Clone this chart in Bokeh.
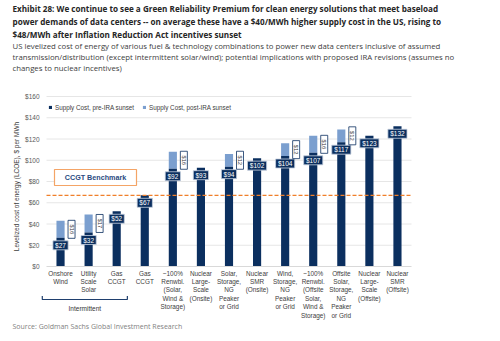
import math
from bokeh.plotting import figure
from bokeh.models import (ColumnDataSource, Range1d, FixedTicker, NumeralTickFormatter,
                          Legend, LegendItem)
from bokeh.embed import file_html
from bokeh.resources import INLINE
from bokeh.core.properties import value

# ---------------- data ----------------
categories = ["Onshore\nWind", "Utility\nScale\nSolar", "Gas\nCCGT", "Gas\nCCGT",
              "~100%\nRenwbl.\n(Solar,\nWind &\nStorage)", "Nuclear\nLarge-\nScale\n(Onsite)",
              "Solar,\nStorage,\nNG\nPeaker\nor Grid", "Nuclear\nSMR\n(Onsite)",
              "Wind,\nStorage,\nNG\nPeaker\nor Grid", "~100%\nRenwbl.\n(Offsite\nSolar,\nWind &\nStorage)",
              "Offsite\nSolar,\nStorage,\nNG\nPeaker\nor Grid", "Nuclear\nLarge-\nScale\n(Offsite)",
              "Nuclear\nSMR\n(Offsite)"]
pre_ira = [27, 32, 52, 67, 92, 93, 94, 102, 104, 107, 117, 123, 132]
post_ira_add = [16, 17, 0, 0, 16, 0, 12, 0, 12, 16, 12, 0, 0]
ccgt_benchmark = 67
y_ticks = [0, 20, 40, 60, 80, 100, 120, 140, 160]
intermittent_group = [0, 1, 2]

title_lines = [
    "Exhibit 28: We continue to see a Green Reliability Premium for clean energy solutions that meet baseload",
    "power demands of data centers -- on average these have a $40/MWh higher supply cost in the US, rising to",
    "$48/MWh after Inflation Reduction Act incentives sunset",
]
subtitle_lines = [
    "US levelized cost of energy of various fuel & technology combinations to power new data centers inclusive of assumed",
    "transmission/distribution (except intermittent solar/wind); potential implications with proposed IRA revisions (assumes no",
    "changes to nuclear incentives)",
]
source_text = "Source: Goldman Sachs Global Investment Research"
y_title = "Levelized cost of energy (LCOE), $ per MWh"

# ---------------- layout constants (pixels) ----------------
W, H = 500, 341
FL, FR, FT, FB = 46, 411, 96, 266      # plotting area of the chart
YMAX = 160
NX = len(categories)
px_per_x = (FR - FL) / NX
px_per_y = (FB - FT) / YMAX

def xd(px):
    return (px - FL) / px_per_x - 0.5

def yd(py):
    return (FB - py) / px_per_y

NAVY = "#0b2f5f"
LIGHT = "#7b9fcf"
ORANGE = "#f07f2a"
FONT = "Liberation Sans"
TFONT = "Open Sans"

xs = list(range(NX))
tops = [a + b for a, b in zip(pre_ira, post_ira_add)]
src = ColumnDataSource(dict(x=xs, pre=pre_ira, top=tops,
                            lab=["$%d" % v for v in pre_ira],
                            lab_y=[v - 7.5 / px_per_y for v in pre_ira],
                            lab_w=[3.9 * len("$%d" % v) + 3.5 for v in pre_ira]))
post_idx = [i for i, v in enumerate(post_ira_add) if v > 0]
psrc = ColumnDataSource(dict(x=[i + 11 / px_per_x for i in post_idx],
                             y=[pre_ira[i] + post_ira_add[i] / 2 for i in post_idx],
                             lab=["$%d" % post_ira_add[i] for i in post_idx]))

p = figure(width=W, height=H, output_backend="svg", toolbar_location=None,
           x_range=Range1d(xd(0), xd(W)), y_range=Range1d(yd(H), yd(0)),
           min_border=0)
p.outline_line_color = None
p.background_fill_color = "white"
p.border_fill_color = "white"
p.xgrid.visible = False
p.ygrid.visible = False

yax = p.yaxis[0]
yax.fixed_location = -0.5
yax.bounds = (0, YMAX)
yax.ticker = FixedTicker(ticks=y_ticks)
yax.formatter = NumeralTickFormatter(format="$0")
yax.axis_line_color = None
yax.major_tick_line_color = None
yax.minor_tick_line_color = None
yax.major_tick_in = 0
yax.major_tick_out = 0
yax.minor_tick_in = 0
yax.minor_tick_out = 0
yax.major_label_text_font = FONT
yax.major_label_text_font_size = "6.5px"
yax.major_label_text_color = "#595959"
yax.major_label_standoff = 7

xax = p.xaxis[0]
xax.fixed_location = 0
xax.bounds = (-0.5, NX - 0.5)
xax.ticker = FixedTicker(ticks=xs)
xax.major_label_overrides = {i: c for i, c in enumerate(categories)}
xax.axis_line_color = "#d9d9d9"
xax.major_tick_line_color = None
xax.minor_tick_line_color = None
xax.major_tick_in = 0
xax.major_tick_out = 0
xax.major_label_text_font = FONT
xax.major_label_text_font_size = "6.4px"
xax.major_label_text_color = "#404040"
xax.major_label_standoff = 3

p.segment(x0=[-0.5] * len(y_ticks[1:]), x1=[NX - 0.5] * len(y_ticks[1:]),
          y0=y_ticks[1:], y1=y_ticks[1:], line_color="#e6e6e6", line_width=1)

r_post = p.vbar(x="x", bottom="pre", top="top", width=0.29, source=src,
                fill_color=LIGHT, line_color=None)
r_pre = p.vbar(x="x", bottom=0, top="pre", width=0.29, source=src,
               fill_color=NAVY, line_color=None)

p.line(x=[-0.5, NX - 0.5], y=[ccgt_benchmark, ccgt_benchmark], line_color=ORANGE,
       line_width=1.3, line_dash="4 2")

p.rect(x="x", y="lab_y", width="lab_w", height=9, width_units="screen",
       height_units="screen", source=src, fill_color=NAVY, line_color="#c6d1df",
       line_width=0.8)
p.text(x="x", y="lab_y", text="lab", source=src, text_color="white",
       text_font=value(FONT), text_font_size="6.5px", text_align="center",
       text_baseline="middle")

p.rect(x="x", y="y", width=7, height=18, width_units="screen", height_units="screen",
       source=psrc, fill_color="white", line_color=NAVY, line_width=0.8)
p.text(x="x", y="y", text="lab", source=psrc, angle=-math.pi / 2, text_color="#333333",
       text_font=value(FONT), text_font_size="5.8px", text_align="center",
       text_baseline="middle")

bx, by = xd(95), yd(177)
p.rect(x=[bx], y=[by], width=82, height=16, width_units="screen", height_units="screen",
       fill_color="white", line_color="#f4a466", line_width=1.2)
p.text(x=[bx], y=[by], text=["CCGT Benchmark"], text_color="#2a4a7f",
       text_font=value(FONT), text_font_size="7.2px", text_font_style="bold",
       text_align="center", text_baseline="middle")

legend = Legend(items=[LegendItem(label="Supply Cost, pre-IRA sunset", renderers=[r_pre]),
                       LegendItem(label="Supply Cost, post-IRA sunset", renderers=[r_post])],
                location=(FL + 2, H - 111), orientation="horizontal", padding=0, margin=0,
                spacing=8, glyph_width=4, glyph_height=4, label_standoff=3,
                label_height=8, label_text_font=FONT, label_text_font_size="6.3px",
                label_text_color="#404040", background_fill_alpha=0,
                border_line_color=None)
p.add_layout(legend)

g0, g1 = intermittent_group[0] - 0.65, intermittent_group[-1] + 0.38
yb, yt = yd(299), yd(295.5)
p.line(x=[g0, g0, g1, g1], y=[yt, yb, yb, yt], line_color="#1f3f6e", line_width=1.2)
p.text(x=[(g0 + g1) / 2], y=[yd(307.5)], text=["Intermittent"], text_color="#333333",
       text_font=value(FONT), text_font_size="6.5px", text_align="center",
       text_baseline="middle")

p.text(x=[xd(16)], y=[yd(186)], text=[y_title], angle=math.pi / 2, text_color="#404040",
       text_font=value(FONT), text_font_size="6.5px", text_align="center",
       text_baseline="middle")

p.text(x=[xd(12)] * 3, y=[yd(8 + 12.8 * i) for i in range(3)], text=title_lines,
       text_font=value(TFONT), text_font_size="8.15px", text_font_style="bold",
       text_color="#262626", text_baseline="middle")
p.text(x=[xd(12)] * 3, y=[yd(45 + 11.3 * i) for i in range(3)], text=subtitle_lines,
       text_font=value(TFONT), text_font_size="7.8px", text_color="#404040",
       text_baseline="middle")
p.text(x=[xd(12)], y=[yd(326)], text=[source_text], text_font=value(TFONT),
       text_font_size="7px", text_color="#7f7f7f", text_baseline="middle")

open("out.html", "w").write(file_html(p, INLINE))
